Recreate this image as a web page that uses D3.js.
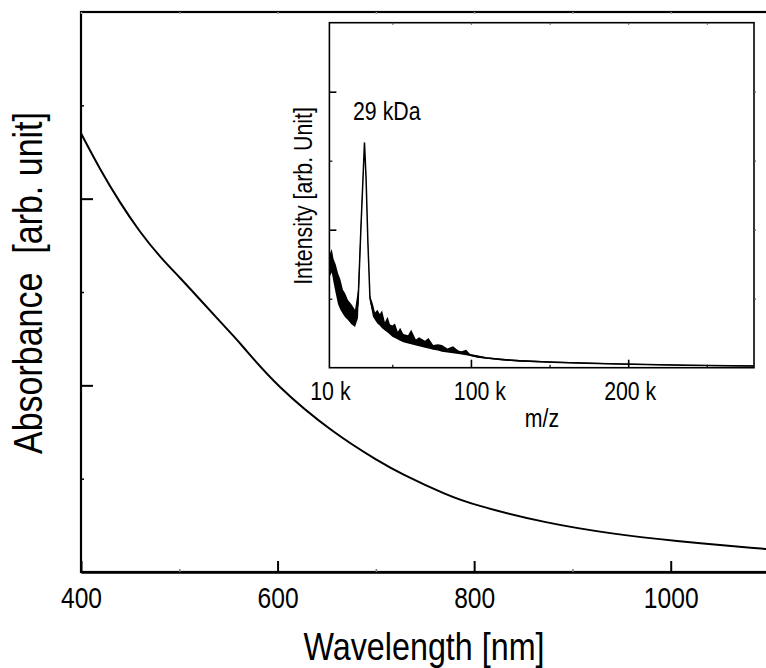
<!DOCTYPE html>
<html>
<head>
<meta charset="utf-8">
<script src="https://cdn.jsdelivr.net/npm/d3@7/dist/d3.min.js"></script>
<style>
body { margin: 0; background: #fff; }
text { font-family: "Liberation Sans", Arial, sans-serif; fill: #000; }
</style>
</head>
<body>
<div id="chart"></div>
<script>

// Absorbance spectrum (arb. unit)
let wavelength = [400, 419, 440, 460, 480, 501, 521, 541, 555, 562, 599, 657, 704, 725, 772, 800, 874, 942, 1000, 1097, 1100];
let absorbance = [4.70, 4.32, 3.95, 3.64, 3.38, 3.15, 2.92, 2.69, 2.53, 2.45, 1.99, 1.486, 1.18, 1.057, 0.825, 0.718, 0.52, 0.407, 0.335, 0.246, 0.244];

let wlMajor = [400, 600, 800, 1000];
let wlMinor = [500, 700, 900];
let absMajor = [2, 4];
let absMinor = [1, 3, 5];

// Inset: mass spectrum, noisy band given as upper / lower envelope
let mz = [10.4, 11.5, 12.6, 14, 15.5, 17, 18.6, 20, 21.8, 24, 26.3, 28.2, 30.1, 31.4, 32.3, 33.3, 34.5, 35.8,
	37.7, 39, 40.5, 42, 43.5, 45.3, 47, 48.5, 50, 51.7, 53.5, 55, 57, 60, 62, 65, 67, 70.8, 73, 76, 79, 81.6, 85, 88.6, 92, 94, 97, 99.4, 104, 110,
	120, 131, 152, 174, 195, 237, 280];
let upper = [1.66, 1.72, 1.58, 1.50, 1.37, 1.28, 1.13, 1.08, 0.98, 0.92, 0.84, 1.13, 2.14, 2.80, 3.28, 2.80, 1.85, 1.05,
	0.92, 0.80, 0.84, 0.78, 0.83, 0.66, 0.74, 0.63, 0.61, 0.64, 0.52, 0.58, 0.49, 0.47, 0.55, 0.41, 0.44, 0.39, 0.43, 0.33, 0.34, 0.33, 0.28, 0.31, 0.25, 0.24, 0.26, 0.20, 0.18, 0.15,
	0.13, 0.11, 0.09, 0.075, 0.06, 0.042, 0.032];
let lower = [1.33, 1.38, 1.24, 1.08, 0.92, 0.84, 0.78, 0.73, 0.69, 0.63, 0.59, 0.72, 1.98, 2.72, 3.25, 2.72, 1.76, 0.96,
	0.74, 0.69, 0.64, 0.61, 0.57, 0.54, 0.51, 0.48, 0.45, 0.43, 0.41, 0.39, 0.37, 0.35, 0.34, 0.32, 0.31, 0.29, 0.28, 0.26, 0.25, 0.23, 0.22, 0.21, 0.20, 0.19, 0.18, 0.17, 0.145, 0.128,
	0.105, 0.088, 0.07, 0.056, 0.047, 0.029, 0.018];

let mzMajor = [100, 200];
let mzMinor = [50, 150, 250];
let mzLabels = [10, 100, 200];
let intMajor = [2, 4];
let intMinor = [1, 3];

let width = 766, height = 668;
let narrow = 0.82;   // the original lettering is a condensed sans

let svg = d3.select("#chart").append("svg")
	.attr("width", width)
	.attr("height", height);

// ---------- main plot ----------
let x = d3.scaleLinear().domain([400, 1100]).range([81, 769]);
let y = d3.scaleLinear().domain([0, 6]).range([572, 12]);

// frame (right edge sits outside the window)
svg.append("rect")
	.attr("x", x(400)).attr("y", y(6))
	.attr("width", x(1100) - x(400)).attr("height", y(0) - y(6))
	.attr("fill", "none").attr("stroke", "#000").attr("stroke-width", 2.2);

// bottom axis, ticks pointing inward
let xAxis = svg.append("g")
	.attr("transform", "translate(0," + y(0) + ")")
	.call(d3.axisBottom(x).tickValues(wlMajor).tickSize(-11).tickSizeOuter(0).tickPadding(15).tickFormat(d3.format("d")));
xAxis.select(".domain").attr("stroke-width", 2.6);
xAxis.selectAll(".tick line").attr("stroke-width", 2);
xAxis.selectAll("text")
	.attr("font-size", 30)
	.attr("font-family", "Liberation Sans, Arial, sans-serif")
	.attr("transform", "scale(" + narrow + ",1)");

svg.append("g")
	.attr("transform", "translate(0," + y(0) + ")")
	.call(d3.axisBottom(x).tickValues(wlMinor).tickSize(-3).tickSizeOuter(0).tickFormat(""))
	.call(g => g.select(".domain").remove())
	.selectAll(".tick line").attr("stroke", "#777").attr("stroke-width", 1.5);

// faint ticks along the top edge
svg.append("g")
	.attr("transform", "translate(0," + y(6) + ")")
	.call(d3.axisTop(x).tickValues(wlMajor.concat(wlMinor)).tickSize(-2).tickSizeOuter(0).tickFormat(""))
	.call(g => g.select(".domain").remove())
	.selectAll(".tick line").attr("stroke", "#999").attr("stroke-width", 1.5);

// left axis, no labels
let yAxis = svg.append("g")
	.attr("transform", "translate(" + x(400) + ",0)")
	.call(d3.axisLeft(y).tickValues(absMajor).tickSize(-12).tickSizeOuter(0).tickFormat(""));
yAxis.select(".domain").remove();
yAxis.selectAll(".tick line").attr("stroke-width", 2);

svg.append("g")
	.attr("transform", "translate(" + x(400) + ",0)")
	.call(d3.axisLeft(y).tickValues(absMinor).tickSize(-3).tickSizeOuter(0).tickFormat(""))
	.call(g => g.select(".domain").remove())
	.selectAll(".tick line").attr("stroke-width", 1.5);

// the absorbance curve
let absLine = d3.line()
	.x((d, i) => x(wavelength[i]))
	.y(d => y(d))
	.curve(d3.curveBasis);

svg.append("path")
	.datum(absorbance)
	.attr("d", absLine)
	.attr("fill", "none")
	.attr("stroke", "#000")
	.attr("stroke-width", 2);

// axis titles
svg.append("text")
	.attr("transform", "translate(424,660) scale(0.85,1)")
	.attr("text-anchor", "middle")
	.attr("font-size", 38)
	.text("Wavelength [nm]");

svg.append("text")
	.attr("transform", "translate(42,283) rotate(-90) scale(0.85,1)")
	.attr("text-anchor", "middle")
	.attr("font-size", 40)
	.style("white-space", "pre")
	.text("Absorbance  [arb. unit]");

// ---------- inset ----------
let ix = d3.scaleLinear().domain([10, 280]).range([329.4, 754]);
let iy = d3.scaleLinear().domain([0, 5]).range([367.7, 22.7]);

let inset = svg.append("g");

inset.append("rect")
	.attr("x", ix(10)).attr("y", iy(5))
	.attr("width", ix(280) - ix(10)).attr("height", iy(0) - iy(5))
	.attr("fill", "#fff").attr("stroke", "#000").attr("stroke-width", 1.6);

inset.append("g")
	.attr("transform", "translate(0," + iy(0) + ")")
	.call(d3.axisBottom(ix).tickValues(mzMajor).tickSize(-8).tickSizeOuter(0).tickFormat(""))
	.call(g => g.select(".domain").remove())
	.selectAll(".tick line").attr("stroke-width", 1.6);

inset.append("g")
	.attr("transform", "translate(0," + iy(0) + ")")
	.call(d3.axisBottom(ix).tickValues(mzMinor).tickSize(-3).tickSizeOuter(0).tickFormat(""))
	.call(g => g.select(".domain").remove())
	.selectAll(".tick line").attr("stroke-width", 1.2);

inset.append("g")
	.attr("transform", "translate(0," + iy(5) + ")")
	.call(d3.axisTop(ix).tickValues(mzMajor.concat(mzMinor)).tickSize(-2).tickSizeOuter(0).tickFormat(""))
	.call(g => g.select(".domain").remove())
	.selectAll(".tick line").attr("stroke", "#555").attr("stroke-width", 1.2);

inset.append("g")
	.attr("transform", "translate(" + ix(10) + ",0)")
	.call(d3.axisLeft(iy).tickValues(intMajor).tickSize(-7).tickSizeOuter(0).tickFormat(""))
	.call(g => g.select(".domain").remove())
	.selectAll(".tick line").attr("stroke-width", 1.6);

inset.append("g")
	.attr("transform", "translate(" + ix(10) + ",0)")
	.call(d3.axisLeft(iy).tickValues(intMinor).tickSize(-3).tickSizeOuter(0).tickFormat(""))
	.call(g => g.select(".domain").remove())
	.selectAll(".tick line").attr("stroke-width", 1.2);

inset.append("g")
	.attr("transform", "translate(" + ix(280) + ",0)")
	.call(d3.axisRight(iy).tickValues(intMajor.concat(intMinor)).tickSize(2).tickSizeOuter(0).tickFormat(""))
	.call(g => g.select(".domain").remove())
	.selectAll(".tick line").attr("stroke", "#555").attr("stroke-width", 1.2);

// noisy band + centre trace
let band = d3.area()
	.x((d, i) => ix(mz[i]))
	.y0((d, i) => iy(lower[i]))
	.y1(d => iy(d));

inset.append("path")
	.datum(upper)
	.attr("d", band)
	.attr("fill", "#000");

let trace = d3.line()
	.x((d, i) => ix(mz[i]))
	.y((d, i) => iy((d + lower[i]) / 2));

inset.append("path")
	.datum(upper)
	.attr("d", trace)
	.attr("fill", "none")
	.attr("stroke", "#000")
	.attr("stroke-width", 1.5);

// tick labels; 100 k sits a little right of its tick in the original
let labelNudge = {10: 1, 100: 9, 200: 2};
inset.selectAll(".mzlabel")
	.data(mzLabels)
	.enter()
	.append("text")
	.attr("class", "mzlabel")
	.attr("transform", d => "translate(" + (ix(d) + labelNudge[d]) + ",400) scale(" + narrow + ",1)")
	.attr("text-anchor", "middle")
	.attr("font-size", 26)
	.text(d => d + " k");

inset.append("text")
	.attr("transform", "translate(542,427) scale(" + narrow + ",1)")
	.attr("text-anchor", "middle")
	.attr("font-size", 26)
	.text("m/z");

inset.append("text")
	.attr("transform", "translate(353,120) scale(" + narrow + ",1)")
	.attr("font-size", 26)
	.text("29 kDa");

inset.append("text")
	.attr("transform", "translate(312,196) rotate(-90) scale(" + narrow + ",1)")
	.attr("text-anchor", "middle")
	.attr("font-size", 26)
	.text("Intensity [arb. Unit]");

</script>
</body>
</html>
